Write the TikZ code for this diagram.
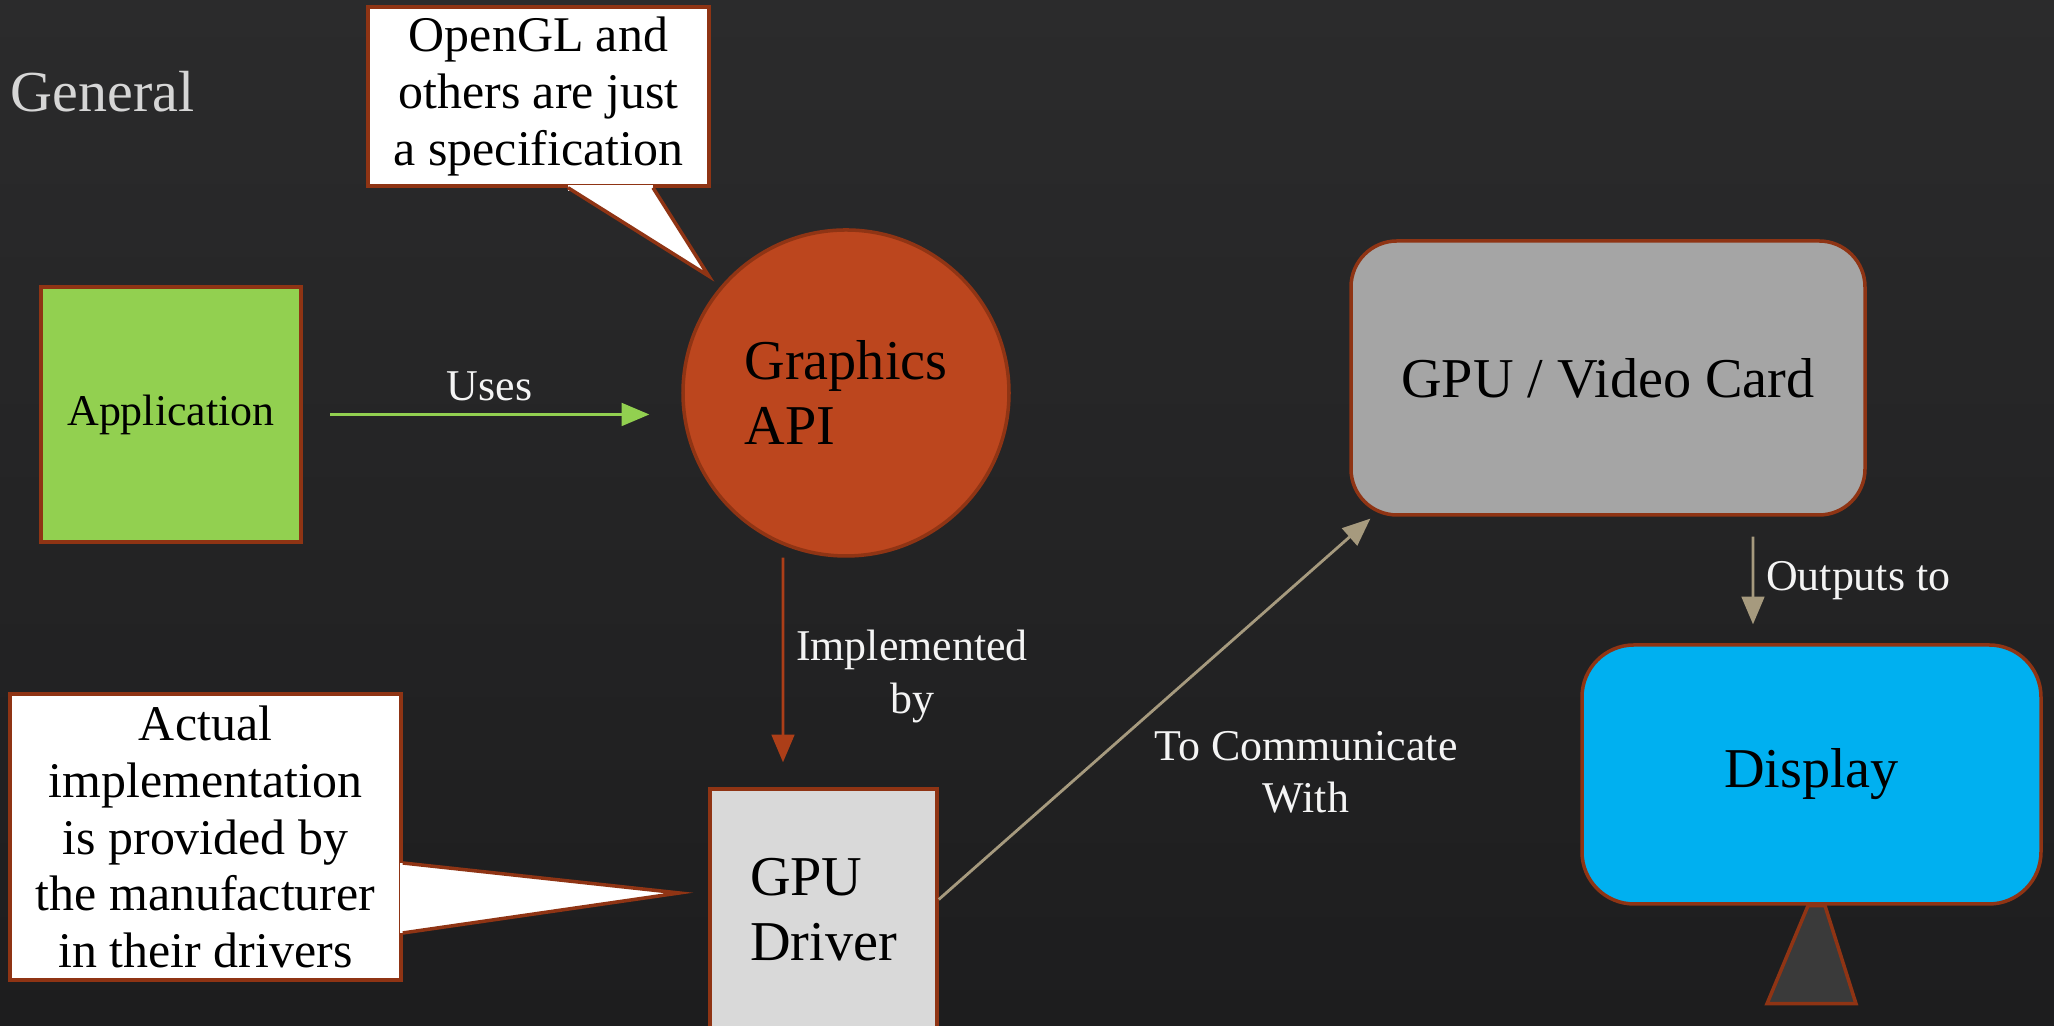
\documentclass[tikz,border=0pt]{standalone}
\usepackage{fontspec}
\setmainfont{Liberation Serif}
\usetikzlibrary{calc}
\usetikzlibrary{arrows}
\usetikzlibrary{positioning}
\usetikzlibrary{shapes}

\definecolor{slatetop}{RGB}{43,43,44}
\definecolor{slatebot}{RGB}{29,29,30}
\definecolor{rust}{RGB}{143,52,20}
\definecolor{apired}{RGB}{188,70,30}
\definecolor{implred}{RGB}{172,62,24}
\definecolor{appgreen}{RGB}{146,208,80}
\definecolor{drivergray}{RGB}{217,217,217}
\definecolor{cardgray}{RGB}{165,165,165}
\definecolor{screenblue}{RGB}{0,176,240}
\definecolor{standgray}{RGB}{58,58,58}
\definecolor{wire}{RGB}{166,154,126}
\definecolor{labelwhite}{RGB}{244,244,244}
\definecolor{titlegray}{RGB}{214,214,214}

\tikzset{block/.style={draw=rust, line width=1pt, text=black, inner sep=0pt, font=\fontsize{16}{18.5}\selectfont}}
\tikzset{note/.style={block, rectangle, fill=white, align=center, font=\fontsize{14.2}{16.2}\selectfont}}
\tikzset{tail/.style={fill=white, draw=rust, line width=1pt}}
\tikzset{connect/.style={draw, line width=0.8pt, >=triangle 45}}
\tikzset{tag/.style={text=labelwhite, align=center, font=\fontsize{12.5}{14.9}\selectfont}}

\begin{document}
\begin{tikzpicture}
\shade[top color=slatetop, bottom color=slatebot] (0,0) rectangle (20.54,10.26);
\useasboundingbox (0,0) rectangle (20.54,10.26);
\clip (0,0) rectangle (20.54,10.26);

\node[anchor=west, inner sep=0pt, text=titlegray, font=\fontsize{16.5}{20}\selectfont] (title) at (0.10,9.34) {General};

\node[block, rectangle, fill=appgreen, minimum width=2.6cm, minimum height=2.55cm, font=\fontsize{12.5}{15}\selectfont] (app) at (1.71,6.115) {Application};
\node[block, circle, fill=apired, minimum size=3.26cm, align=left] (api) at (8.46,6.33) {Graphics\\API};
\node[block, rectangle, fill=drivergray, minimum width=2.27cm, minimum height=2.41cm, align=left] (driver) at (8.235,1.165) {GPU\\Driver};
\node[block, rectangle, rounded corners=0.46cm, fill=cardgray, minimum width=5.14cm, minimum height=2.74cm] (card) at (16.08,6.48) {GPU / Video Card};
\node[block, rectangle, rounded corners=0.52cm, fill=screenblue, minimum width=4.59cm, minimum height=2.59cm] (screen) at (18.115,2.515) {Display};
\draw[rust, line width=1pt, fill=standgray] ([xshift=-0.35mm]screen.south) -- ([xshift=1.35mm]screen.south) -- ([xshift=4.45mm,yshift=-9.8mm]screen.south) -- ([xshift=-4.45mm,yshift=-9.8mm]screen.south) -- cycle;

% callouts
\node[note, minimum width=3.41cm, minimum height=1.79cm] (spec) at (5.385,9.295) {OpenGL and\\others are just\\a specification};
\coordinate (spectip) at ([xshift=-1.1mm,yshift=1.1mm]api.140);
\fill[white] ([xshift=2.95mm,yshift=0.8pt]spec.south) rectangle ([xshift=11.45mm,yshift=-0.8pt]spec.south);
\path[tail] ([xshift=2.95mm]spec.south) -- (spectip) -- ([xshift=11.45mm]spec.south);

\node[note, minimum width=3.91cm, minimum height=2.86cm] (vendor) at (2.055,1.89) {Actual\\implementation\\is provided by\\the manufacturer\\in their drivers};
\coordinate (vendortip) at ([xshift=-2.9mm,yshift=1.65mm]driver.west);
\fill[white] ([xshift=-0.8pt,yshift=-2.6mm]vendor.east) rectangle ([xshift=0.8pt,yshift=-9.6mm]vendor.east);
\path[tail] ([yshift=-2.6mm]vendor.east) -- (vendortip) -- ([yshift=-9.6mm]vendor.east);

% connectors
\path[connect, appgreen, ->] ([xshift=2.7mm]app.east) -- ($(app.east -| api.west)+(-0.32,0)$) node[midway, above, tag] {Uses};
\path[connect, implred, ->] ([xshift=-6.3mm]api.south) -- ([xshift=-4.05mm,yshift=2.5mm]driver.north) node[pos=0.58, right, tag] {Implemented\\by};
\path[connect, wire, ->] ([yshift=1mm]driver.east) -- ([xshift=2.1mm,yshift=-0.2mm]card.south west) node[midway, xshift=1.515cm, yshift=-0.63cm, tag] {To Communicate\\With};
\path[connect, wire, ->] ([xshift=14.5mm,yshift=-2mm]card.south) -- ([xshift=-5.85mm,yshift=1.9mm]screen.north) node[midway, right, tag] {Outputs to};
\end{tikzpicture}
\end{document}
